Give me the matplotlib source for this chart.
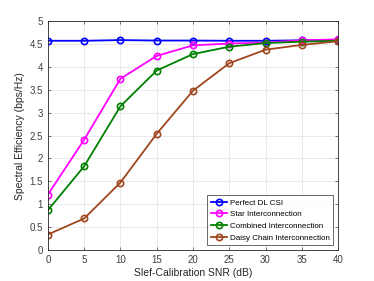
import matplotlib.pyplot as plt
import numpy as np

snr = [0, 5, 10, 15, 20, 25, 30, 35, 40]
perfect = [4.57, 4.57, 4.585, 4.575, 4.575, 4.57, 4.57, 4.58, 4.59]
star = [1.21, 2.41, 3.74, 4.24, 4.47, 4.51, 4.53, 4.58, 4.60]
combined = [0.87, 1.83, 3.14, 3.92, 4.28, 4.44, 4.52, 4.55, 4.57]
daisy = [0.34, 0.69, 1.475, 2.54, 3.48, 4.08, 4.375, 4.48, 4.56]

plt.rcParams['font.family'] = ['Liberation Sans', 'DejaVu Sans']

fig = plt.figure(figsize=(3.74, 2.81), dpi=100)
ax = fig.add_axes([0.128, 0.110, 0.776, 0.815])

ax.plot(snr, perfect, '-o', color='#0000ff', lw=1.3, ms=4.5, mfc='none', mew=1.2, label='Perfect DL CSI')
ax.plot(snr, star, '-o', color='#ff00ff', lw=1.3, ms=4.5, mfc='none', mew=1.2, label='Star Interconnection')
ax.plot(snr, combined, '-o', color='#008000', lw=1.3, ms=4.5, mfc='none', mew=1.2, label='Combined Interconnection')
ax.plot(snr, daisy, '-o', color='#a0461e', lw=1.3, ms=4.5, mfc='none', mew=1.2, label='Daisy Chain Interconnection')

ax.set_xlim(0, 40)
ax.set_ylim(0, 5)
ax.set_xticks(np.arange(0, 41, 5))
ax.set_yticks(np.arange(0, 5.01, 0.5))
ax.set_yticklabels(['0', '0.5', '1', '1.5', '2', '2.5', '3', '3.5', '4', '4.5', '5'])
ax.grid(True, color='#e6e6e6', lw=0.6)
ax.set_axisbelow(True)
ax.tick_params(labelsize=7, colors='#404040', direction='in', length=2.5, width=0.5, top=True, right=True)
for s in ax.spines.values():
    s.set_color('#262626')
    s.set_linewidth(0.6)

ax.set_xlabel('Slef-Calibration SNR (dB)', fontsize=7.5, color='#262626', labelpad=2)
ax.set_ylabel('Spectral Efficiency (bps/Hz)', fontsize=7.5, color='#262626', labelpad=3)

leg = ax.legend(loc='lower right', fontsize=5.8, handlelength=2.0, handletextpad=0.35,
                borderpad=0.45, labelspacing=0.5, borderaxespad=0.6, fancybox=False)
leg.get_frame().set_edgecolor('#262626')
leg.get_frame().set_linewidth(0.6)

fig.savefig('out.png', dpi=100)
